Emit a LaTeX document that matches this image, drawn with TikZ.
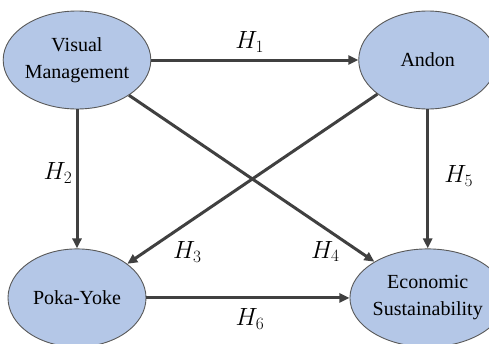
\documentclass[tikz,border=0pt]{standalone}
\usepackage{fontspec}
\setmainfont{Liberation Serif}
\usepackage{tikz}
\usetikzlibrary{arrows.meta,positioning,shapes.geometric}
\definecolor{constructblue}{HTML}{B4C7E7}
\definecolor{bordergray}{HTML}{595959}
\definecolor{pathgray}{HTML}{404040}
\tikzset{
  construct/.style={ellipse,draw=bordergray,line width=0.9pt,fill=constructblue,minimum width=138pt,minimum height=98pt,inner sep=0pt,align=center,font=\fontsize{20}{27}\selectfont},
  hypo/.style={-{Triangle[length=10pt,width=9pt]},line width=3pt,draw=pathgray},
  hlabel/.style={font=\fontsize{23}{27}\selectfont,inner sep=0pt}
}

\begin{document}
\begin{tikzpicture}[x=1pt,y=-1pt,node distance=139pt and 207pt]
  \useasboundingbox (0,0) rectangle (489,343);
  \node[construct] (vm) at (77,60) {Visual\\Management};
  \node[construct, right=of vm] (andon) {Andon};
  \node[construct, below=of vm] (poka) {Poka-Yoke};
  \node[construct, below=of andon] (econ) {Economic\\Sustainability};
  \draw[hypo] (vm) -- node[hlabel, midway, xshift=-5pt, yshift=18pt] {$H_1$} (andon);
  \draw[hypo] (vm) -- node[hlabel, midway, xshift=-19pt, yshift=6pt] {$H_2$} (poka);
  \draw[hypo] (andon) -- node[hlabel, pos=0.76, yshift=-29pt] {$H_3$} (poka);
  \draw[hypo] (vm) -- node[hlabel, pos=0.8, yshift=-23pt] {$H_4$} (econ);
  \draw[hypo] (andon) -- node[hlabel, midway, xshift=31pt, yshift=3pt] {$H_5$} (econ);
  \draw[hypo] (poka) -- node[hlabel, midway, xshift=2pt, yshift=-21pt] {$H_6$} (econ);
\end{tikzpicture}
\end{document}
